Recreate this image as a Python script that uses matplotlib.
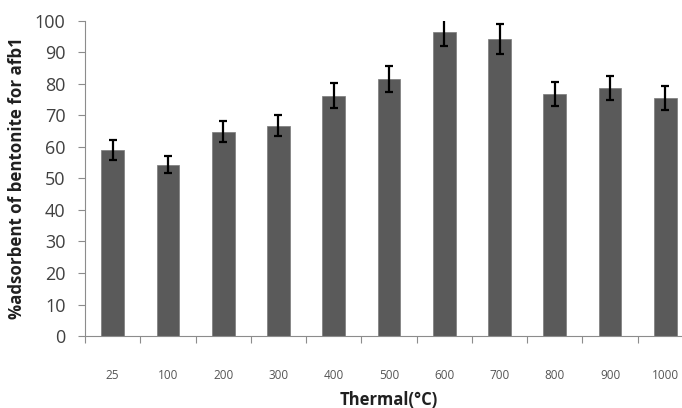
import numpy as np
import matplotlib
matplotlib.use("Agg")
import matplotlib.pyplot as plt

temps = ["25", "100", "200", "300", "400", "500", "600", "700", "800", "900", "1000"]
adsorbed = [59.0, 54.4, 64.8, 66.8, 76.3, 81.6, 96.5, 94.4, 76.8, 78.7, 75.6]
errors = [3.1, 2.7, 3.3, 3.3, 4.0, 4.1, 4.5, 4.8, 3.9, 3.8, 3.8]

plt.rcParams['font.family'] = ['Open Sans', 'DejaVu Sans']

fig = plt.figure(figsize=(6.82, 4.08), dpi=100)
ax = fig.add_axes([85 / 682, 72 / 408, 608 / 682, 315 / 408])

x = np.arange(len(temps))
ax.bar(x, adsorbed, width=0.41, color='#5a5a5a', edgecolor='#7a7a7a', linewidth=0.5, zorder=2)
ax.errorbar(x, adsorbed, yerr=errors, fmt='none', ecolor='black',
            elinewidth=1.6, capsize=3.2, capthick=1.6, zorder=3)

ax.set_xlim(-0.5, len(temps) - 0.5)
ax.set_ylim(0, 100)
ax.set_yticks(np.arange(0, 101, 10))

ax.set_xticks(x)
ax.set_xticklabels(temps, fontsize=8.5, color='#555555')
ax.set_xticks(np.arange(-0.5, len(temps), 1), minor=True)
ax.tick_params(axis='x', which='major', length=0, pad=24)
ax.tick_params(axis='x', which='minor', length=5, width=0.8, color='#8c8c8c', direction='out')
ax.tick_params(axis='y', length=5, width=0.8, color='#8c8c8c', labelsize=13,
               labelcolor='#404040', pad=9)

for s in ['top', 'right']:
    ax.spines[s].set_visible(False)
for s in ['left', 'bottom']:
    ax.spines[s].set_color('#8c8c8c')
    ax.spines[s].set_linewidth(0.8)

ax.set_xlabel('Thermal(°C)', fontsize=12, fontweight='bold', color='#202020', labelpad=6)
ax.set_ylabel('%adsorbent of bentonite for afb1', fontsize=12.2, fontweight='bold',
              color='#202020', labelpad=6)

fig.savefig('out.png', dpi=100)
